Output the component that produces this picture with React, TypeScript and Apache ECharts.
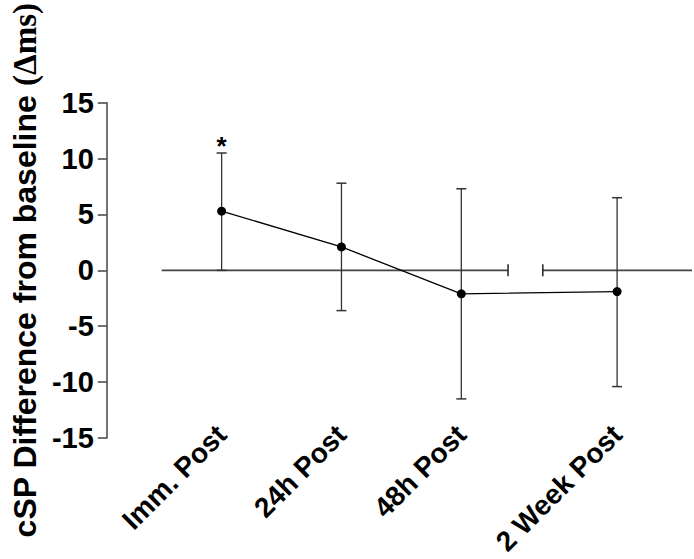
import React, { useEffect, useRef } from "react";
import * as echarts from "echarts";

const categories = ["Imm. Post", "24h Post", "48h Post", "2 Week Post"];
const xPositions = [0, 1, 2, 3.3];
const means = [5.3, 2.1, -2.1, -1.9];
const upper = [10.5, 7.8, 7.3, 6.5];
const lower = [0, -3.6, -11.5, -10.4];
const significance = ["*", "", "", ""];
// baseline (y = 0) segments with axis break: [start, end, capAtEnd(1) / capAtStart(0)]
const baselineSegments = [
  [-0.5, 2.39, 1],
  [2.68, 3.925, 0],
];
const yTickMin = -15;
const yTickMax = 15;
const yTickStep = 5;

const FONT = 'Arial, "Liberation Sans", Helvetica, sans-serif';

export default function App() {
  const ref = useRef<HTMLDivElement>(null);
  useEffect(() => {
    if (!ref.current) return;
    const chart = echarts.init(ref.current, null, { renderer: "svg" });
    const errData = xPositions.map((x, i) => [x, lower[i], upper[i], i]);
    chart.setOption({
      animation: false,
      backgroundColor: "#ffffff",
      grid: { left: 106, right: 2, top: 99, bottom: 121 },
      xAxis: {
        type: "value",
        min: -0.958,
        max: 3.925,
        axisLine: { show: false, onZero: false },
        axisTick: { show: false },
        splitLine: { show: false },
        axisLabel: {
          customValues: xPositions,
          rotate: 45,
          margin: -8,
          fontFamily: FONT,
          fontWeight: "bold",
          fontSize: 28,
          color: "#000",
          formatter: (v: number) => {
            const i = xPositions.findIndex((p) => Math.abs(p - v) < 1e-6);
            return i >= 0 ? categories[i] : "";
          },
        },
      },
      yAxis: {
        type: "value",
        min: yTickMin,
        max: yTickMax,
        interval: yTickStep,
        name: "{a|cSP Difference from baseline }{b|(Δms)}",
        nameLocation: "middle",
        nameRotate: 90,
        nameGap: 48,
        nameTextStyle: {
          rich: {
            a: { fontFamily: FONT, fontWeight: "bold", fontSize: 32, color: "#000" },
            b: {
              fontFamily: '"Times New Roman", "Liberation Serif", serif',
              fontWeight: "bold",
              fontSize: 33,
              color: "#000",
            },
          },
        },
        axisLine: { show: true, onZero: false, lineStyle: { color: "#444", width: 1.5 } },
        axisTick: { show: true, length: 9, lineStyle: { color: "#444", width: 1.5 } },
        splitLine: { show: false },
        axisLabel: {
          margin: 13,
          fontFamily: FONT,
          fontWeight: "bold",
          fontSize: 29,
          color: "#000",
        },
      },
      series: [
        {
          type: "custom",
          data: baselineSegments,
          silent: true,
          z: 1,
          renderItem: (params: any, api: any) => {
            const x1 = api.value(0);
            const x2 = api.value(1);
            const capEnd = api.value(2);
            const p1 = api.coord([x1, 0]);
            const p2 = api.coord([x2, 0]);
            const cx = capEnd ? p2[0] : p1[0];
            return {
              type: "group",
              children: [
                {
                  type: "line",
                  shape: { x1: p1[0], y1: p1[1], x2: p2[0], y2: p2[1] },
                  style: { stroke: "#444", lineWidth: 1.8 },
                },
                {
                  type: "line",
                  shape: { x1: cx, y1: p1[1] - 6, x2: cx, y2: p1[1] + 6 },
                  style: { stroke: "#222", lineWidth: 1.5 },
                },
              ],
            };
          },
        },
        {
          type: "custom",
          data: errData,
          silent: true,
          z: 2,
          renderItem: (params: any, api: any) => {
            const x = api.value(0);
            const lo = api.value(1);
            const hi = api.value(2);
            const idx = api.value(3);
            const top = api.coord([x, hi]);
            const bot = api.coord([x, lo]);
            const w = 5;
            const children: any[] = [
              {
                type: "line",
                shape: { x1: top[0], y1: top[1], x2: bot[0], y2: bot[1] },
                style: { stroke: "#333", lineWidth: 1.3 },
              },
              {
                type: "line",
                shape: { x1: top[0] - w, y1: top[1], x2: top[0] + w, y2: top[1] },
                style: { stroke: "#333", lineWidth: 1.5 },
              },
              {
                type: "line",
                shape: { x1: bot[0] - w, y1: bot[1], x2: bot[0] + w, y2: bot[1] },
                style: { stroke: "#333", lineWidth: 1.5 },
              },
            ];
            const sig = significance[idx];
            if (sig) {
              children.push({
                type: "text",
                x: top[0],
                y: top[1] - 20,
                style: {
                  text: sig,
                  fontFamily: FONT,
                  fontWeight: "bold",
                  fontSize: 26,
                  fill: "#000",
                  align: "center",
                  verticalAlign: "top",
                },
              });
            }
            return { type: "group", children };
          },
        },
        {
          type: "line",
          data: xPositions.map((x, i) => [x, means[i]]),
          symbol: "circle",
          symbolSize: 9,
          z: 3,
          itemStyle: { color: "#000" },
          lineStyle: { color: "#000", width: 1.3 },
        },
      ],
    });
    return () => chart.dispose();
  }, []);
  return (
    <div
      ref={ref}
      style={{ position: "fixed", left: 0, top: 0, width: 694, height: 559, background: "#fff" }}
    />
  );
}
